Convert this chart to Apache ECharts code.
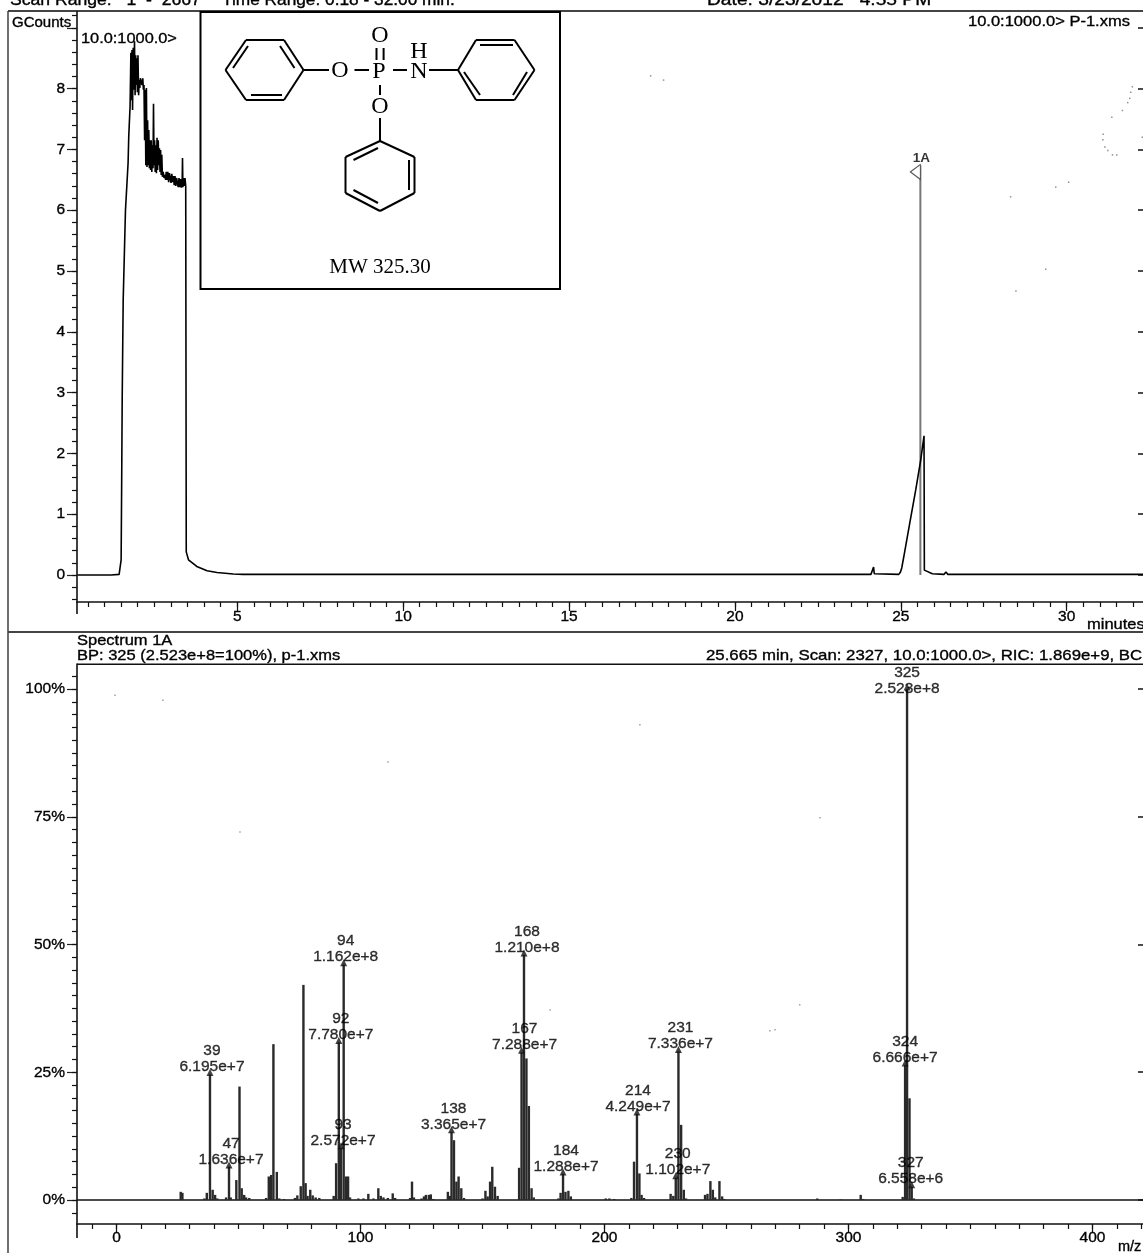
<!DOCTYPE html>
<html><head><meta charset="utf-8">
<style>html,body{margin:0;padding:0;background:#fff}#c{width:1143px;height:1253px}</style>
<script src="https://cdn.jsdelivr.net/npm/echarts@6/dist/echarts.min.js"></script>
</head><body><div id="c"></div>
<script>
// ---- chromatogram trace (minutes, GCounts)
var chromTime = [0.18,1.2,1.44,1.487,1.50,1.517,1.532,1.562,1.631,1.71,1.73,1.77,1.794,1.81,1.827,1.845,1.864,1.882,1.903,1.921,1.939,1.954,1.972,1.99,2.008,2.027,2.045,2.063,2.081,2.105,2.129,2.153,2.171,2.189,2.208,2.226,2.244,2.262,2.28,2.298,2.316,2.334,2.352,2.37,2.389,2.407,2.425,2.443,2.461,2.476,2.491,2.509,2.527,2.545,2.563,2.582,2.6,2.618,2.636,2.654,2.672,2.69,2.708,2.726,2.744,2.768,2.793,2.817,2.841,2.859,2.883,2.907,2.932,2.956,2.98,3.004,3.028,3.052,3.076,3.1,3.124,3.148,3.172,3.196,3.22,3.245,3.269,3.293,3.317,3.341,3.35,3.362,3.383,3.401,3.425,3.447,3.462,3.463,3.53,3.78,4.09,4.39,4.88,5.18,8,15,24.1,24.16,24.18,24.2,24.24,24.94,24.99,25.03,25.09,25.27,25.45,25.6,25.7,25.71,25.74,25.95,26.3,26.36,26.42,28,32.3];
var chromValue = [0.0,0.0,0.01,0.04,0.25,1.56,2.88,4.52,6.0,6.78,7.22,7.71,8.59,7.81,8.635,7.65,8.67,7.98,8.78,7.89,8.55,8.06,8.5,7.94,8.55,7.89,8.14,8.01,8.17,8.11,8.06,8.17,7.98,8.06,7.15,7.98,6.74,8.01,6.71,7.48,6.74,7.32,6.69,7.15,6.66,7.15,6.63,7.07,6.69,7.75,6.74,7.15,6.63,7.07,6.61,7.19,6.66,7.15,6.74,7.02,6.63,6.99,6.58,6.91,6.55,6.63,6.53,6.58,6.5,6.63,6.5,6.63,6.46,6.61,6.53,6.45,6.6,6.46,6.56,6.41,6.56,6.4,6.53,6.45,6.38,6.53,6.38,6.51,6.37,6.5,6.86,6.38,6.53,6.4,6.53,6.4,6.37,0.38,0.25,0.14,0.07,0.04,0.016,0.01,0.01,0.01,0.01,0.02,0.13,0.02,0.01,0.01,0.05,0.12,0.3,0.855,1.4,1.89,2.29,0.08,0.05,0.02,0.01,0.05,0.01,0.01,0.01];
var markerTime = [25.59,25.59];
var markerValue = [0.0,6.74];
var markerLabelPoint = [25.59,6.63];
var speckTime = [31.98,31.93,31.9,31.84,31.68,31.36,31.1,31.09,31.15,31.24,31.38,31.51,32.28,17.46,17.85,28.31,29.67,30.06,29.37,28.47];
var speckValue = [8.03,7.94,7.84,7.77,7.64,7.53,7.25,7.16,7.04,6.98,6.91,6.91,7.2,8.21,8.14,6.22,6.38,6.46,5.03,4.67];
// ---- mass spectrum sticks (m/z position as read, % of base peak)
var peakMz = [26.3,27,36,37,38.3,39.4,40.4,41.3,44.9,46.1,46.8,49.1,50.4,51.3,52.3,53.1,54.4,61.3,62.4,63.4,64.3,65.7,66.7,68.6,73.1,74.1,75.5,76.6,77.5,78.3,79.4,80.4,81.6,83.1,89,90,91.1,92,93.1,94.1,94.9,95.7,99.1,101.2,103.2,105.3,107.3,108.3,109.4,111.2,113.2,114.2,120.3,121.1,121.9,125,126,126.8,128,128.8,129.8,135.8,136.7,137.3,138.3,139.3,140.2,141.3,142.4,150,151.2,152.1,153.1,154,155.1,156.2,165,166,167,168,169,170.1,171,181.1,182,183,184,185.2,186.2,200.5,202,204,211,212.1,213.3,214.3,215.2,216.2,227.1,228.2,229.2,230.3,231.4,232.5,233.4,241.2,242.2,243.4,244.4,245.4,247.1,248.2,249.1,287.2,296.8,305,306,322.2,323.2,324,325,325.9,326.8];
var peakPct = [1.6,1.4,0.3,1.4,24.55,2,1,0.3,0.5,6.48,0.5,3.9,22.2,2.3,1,0.5,0.4,0.4,4.6,4.9,30.5,5.5,0.3,0.2,0.4,0.9,2.7,42.1,3.3,0.8,2,0.9,0.5,0.4,0.8,7.2,30.84,10.2,46.06,4.6,4.6,0.5,0.3,0.3,1.2,0.3,2.3,0.8,0.5,0.4,1.3,0.4,0.4,3.6,0.5,0.3,0.7,1,1,1.1,0.2,1.6,0.8,13.34,11.7,3.6,4.6,2.3,0.4,0.3,1.8,0.7,3.6,6.5,2.6,0.8,6.3,28.89,47.96,27.7,18.4,2.3,0.5,0.3,1.4,5.1,1.6,1.8,0.7,0.3,0.3,0.2,0.4,7.5,16.84,5.2,1,0.4,1.2,0.8,4.37,29.08,14.7,2,0.3,1,1.2,3.7,2,0.5,3.7,0.7,0.2,0.3,0.1,1,0.2,0.6,26.42,100,19.9,2.6,0.3];
var specMz = [111.3,50.6,288.3,214.5,19,-0.6,267.8,269.9,280,177.7];
var specPct = [85.7,72,74.8,93,97.8,98.8,33.1,33.3,38.2,37.2];
// ---- annotated peaks
var noteMz = [38.3,46.1,91.1,92,93.1,137.3,166,167,183,213.3,229.2,230.3,323.2,324,325.9];
var notePct = [24.55,6.48,30.84,10.2,46.06,13.34,28.89,47.96,5.1,16.84,4.37,29.08,26.42,100,2.6];
var noteName = ['39','47','92','93','94','138','167','168','184','214','230','231','324','325','327'];
var noteIntensity = ['6.195e+7','1.636e+7','7.780e+7','2.572e+7','1.162e+8','3.365e+7','7.288e+7','1.210e+8','1.288e+7','4.249e+7','1.102e+7','7.336e+7','6.666e+7','2.523e+8','6.558e+6'];
var noteShiftX = [2,2,2,2,2,2,3,3,3,1,2,2,0,0,-1];
var noteShiftY = [9,9,9,9,9,9,9,9,9.5,9,9,9,9,16,9];
// ---- axis ticks
var timeLabels = [5,10,15,20,25,30];
var countLabels = [0,1,2,3,4,5,6,7,8];
var countMajor = [0,1,2,3,4,5,6,7,8,9];
var pctLabels = [0,25,50,75,100];
var mzLabels = [0,100,200,300,400];
var timeRange = [0.17,32.3], countRange = [-0.444,9.26];
var mzRange = [-16.2,420.7], pctRange = [-4.7,104.9];

function steps(a,b,s){var r=[];for(var i=Math.ceil(a/s-1e-9);i*s<=b+1e-9;i++){r.push(+(i*s).toFixed(3));}return r;}
function zip(a,b){return a.map(function(v,i){return [v,b[i]];});}

var FONT='"Liberation Sans",Arial,sans-serif', INK='#000';
var minorTime=steps(0.5,32,0.5), minorCount=steps(-0.4,9.2,0.2), minorMz=steps(-10,420,10), minorPct=steps(-2.5,102.5,2.5);
var LBL={color:INK,fontSize:15.5,fontFamily:FONT,textBorderColor:'#000',textBorderWidth:0.35};

function xAx(grid,range,major,labels,minor,margin){
  return [{type:'value',gridIndex:grid,min:range[0],max:range[1],position:'bottom',splitLine:{show:false},
    axisLine:{onZero:false,lineStyle:{color:'#111',width:1.6}},
    axisTick:{length:9,customValues:major,lineStyle:{color:'#111',width:1.2}},
    axisLabel:Object.assign({customValues:labels,margin:margin},LBL)},
   {type:'value',gridIndex:grid,min:range[0],max:range[1],position:'bottom',splitLine:{show:false},
    axisLine:{show:false,onZero:false},
    axisTick:{length:5,customValues:minor,lineStyle:{color:'#111',width:1.2}},axisLabel:{show:false}}];
}
function yAx(grid,range,major,labels,minor,fmt){
  return [{type:'value',gridIndex:grid,min:range[0],max:range[1],position:'left',splitLine:{show:false},
    axisLine:{onZero:false,lineStyle:{color:'#111',width:1.6}},
    axisTick:{length:10,customValues:major,lineStyle:{color:'#222',width:1.2}},
    axisLabel:Object.assign({customValues:labels,margin:12,formatter:fmt||'{value}'},LBL)},
   {type:'value',gridIndex:grid,min:range[0],max:range[1],position:'left',splitLine:{show:false},
    axisLine:{show:false,onZero:false},
    axisTick:{length:5,customValues:minor,lineStyle:{color:'#111',width:1.2}},axisLabel:{show:false}},
   {type:'value',gridIndex:grid,min:range[0],max:range[1],position:'right',splitLine:{show:false},
    axisLine:{show:false,onZero:false},
    axisTick:{inside:true,length:5,customValues:major,lineStyle:{color:'#111',width:1.5}},axisLabel:{show:false}}];
}

var graphicEls=[];
function ln(x1,y1,x2,y2,w,col,z){graphicEls.push({type:'line',silent:true,z:z||40,shape:{x1:x1,y1:y1,x2:x2,y2:y2},style:{stroke:col||'#111',lineWidth:w||1.5}});}
function tx(s,x,y,font,align,z,sx,plain){
  var st={text:s,font:font||('15px '+FONT),fill:INK,textAlign:align||'left',textVerticalAlign:'middle'};
  if(!plain){st.stroke='#000';st.lineWidth=0.35;}
  graphicEls.push({type:'text',silent:true,z:z||60,x:x,y:y,scaleX:sx||1,style:st});
}

// frame
ln(8,11,1143,11,2.2,'#444');
ln(8,11,8,1253,1.4,'#333');
ln(8,632,1143,632,2.2,'#444');
ln(77,602,77,614,1.6);
ln(77,1224,77,1238,1.6);
ln(77,664.3,1143,664.3,1.6);
ln(77,11,77,12,1.6);
// texts
var hdr='16px '+FONT;
tx('Scan Range:   1  -  2667',10,1,hdr,'left',60,1.1);
tx('Time Range: 0.18 - 32.00 min.',222,1,hdr,'left',60,1.08);
tx('Date: 3/23/2012   4:55 PM',707,1,hdr,'left',60,1.2);
tx('GCounts',12,23,'15px '+FONT);
tx('10.0:1000.0>',81,39,'15px '+FONT,'left',60,1.09);
tx('10.0:1000.0> P-1.xms',968,22,'15px '+FONT,'left',60,1.1);
tx('minutes',1087,625,'15px '+FONT,'left',60,1.1);
tx('Spectrum 1A',77,641,'15px '+FONT,'left',60,1.1);
tx('BP: 325 (2.523e+8=100%), p-1.xms',77,656,'15px '+FONT,'left',60,1.1);
tx('25.665 min, Scan: 2327, 10.0:1000.0>, RIC: 1.869e+9, BC',706,656,'15px '+FONT,'left',60,1.12);
tx('m/z',1118,1247,'14.5px '+FONT);

// inset: structure drawing
graphicEls.push({type:'rect',silent:true,z:80,shape:{x:200.5,y:12,width:359.5,height:277},style:{fill:'#fff',stroke:'#000',lineWidth:2}});
var bonds=[
 [225.5,70,246,40],[246,40,284,40],[284,40,303.5,70],[303.5,70,284,100],[284,100,246,100],[246,100,225.5,70],
 [233,68,248,46],[280,46,294.5,68],[251,95,282,95],
 [458,70,476,40],[476,40,514.5,40],[514.5,40,534.5,70],[534.5,70,514.5,100],[514.5,100,476,100],[476,100,458,70],
 [480,45,513,45],[464,72,480,95],[513,95,527,72],
 [380,141,414.5,157],[414.5,157,414.5,193],[414.5,193,380,211],[380,211,345.5,193],[345.5,193,345.5,157],[345.5,157,380,141],
 [353.5,160,378,148],[409,160,409,190],[353.5,190,378,203],
 [303.5,70,329,70],[354.5,70,369,70],[393,70,407,70],[429,70,458,70],
 [376.5,48,376.5,60],[383.6,48,383.6,60],[380,85,380,95],[380,118,380,141]];
bonds.forEach(function(b){ln(b[0],b[1],b[2],b[3],2,'#000',85);});
var atom='24px "Liberation Serif",serif';
[['O',380,36],['O',340,71],['P',379,72],['N',419,72],['H',419,52],['O',380,107]].forEach(function(a){tx(a[0],a[1],a[2],atom,'center',90,1,true);});
tx('MW 325.30',380,267,'21px "Liberation Serif",serif','center',90,1,true);

var noteData=noteMz.map(function(m,i){return {value:[m,notePct[i]],name:noteName[i],intensity:noteIntensity[i],
  label:{offset:[noteShiftX[i],noteShiftY[i]]}};});

var option={
 animation:false,backgroundColor:'#fff',
 grid:[{left:77,right:0,top:12,height:590},{left:77,right:0,top:664,height:560}],
 xAxis:xAx(0,timeRange,[5,10,15,20,25,30],timeLabels,minorTime,7).concat(xAx(1,mzRange,mzLabels,mzLabels,minorMz,6)),
 yAxis:yAx(0,countRange,countMajor,countLabels,minorCount).concat(yAx(1,pctRange,[0,25,50,75,100],pctLabels,minorPct,'{value}%')),
 series:[
  {type:'line',name:'Chromatogram',xAxisIndex:0,yAxisIndex:0,data:zip(chromTime,chromValue),showSymbol:false,symbol:'none',smooth:false,sampling:false,clip:true,lineStyle:{color:'#000',width:1.6},z:5},
  {type:'line',name:'1A marker',xAxisIndex:0,yAxisIndex:0,data:zip(markerTime,markerValue),symbol:'none',lineStyle:{color:'#777',width:2},z:4},
  {type:'scatter',name:'1A',xAxisIndex:0,yAxisIndex:0,data:[markerLabelPoint],symbol:'triangle',symbolRotate:90,symbolSize:[15,10],symbolOffset:[-5,0],
   itemStyle:{color:'#fff',borderColor:'#333',borderWidth:1},
   label:{show:true,position:'top',distance:2,offset:[6,3],formatter:'1A',color:INK,fontSize:13.5,fontWeight:'bold',fontFamily:FONT},z:6},
  {type:'scatter',name:'specks',xAxisIndex:0,yAxisIndex:0,data:zip(speckTime,speckValue),symbol:'rect',symbolSize:1.5,itemStyle:{color:'#777'},z:3},
  {type:'scatter',name:'spectrum specks',xAxisIndex:2,yAxisIndex:3,data:zip(specMz,specPct),symbol:'rect',symbolSize:1.5,itemStyle:{color:'#888'},z:3},
  {type:'bar',name:'Spectrum',xAxisIndex:2,yAxisIndex:3,data:zip(peakMz,peakPct),barWidth:2.4,itemStyle:{color:'#2a2a2a'},z:5,
   markLine:{silent:true,symbol:'none',label:{show:false},animation:false,lineStyle:{color:'#111',width:1.5,type:'solid'},data:[{yAxis:0}]}},
  {type:'scatter',name:'Annotated',xAxisIndex:2,yAxisIndex:3,data:noteData,symbol:'triangle',symbolSize:[7,7],symbolOffset:[0,-2],itemStyle:{color:'#111'},z:8,
   label:{show:true,position:'top',distance:3,align:'center',color:INK,fontSize:15.5,lineHeight:16,fontFamily:FONT,textBorderColor:'#000',textBorderWidth:0.35,
    formatter:function(p){return p.data.name+'\n'+p.data.intensity;}}}
 ],
 graphic:{elements:graphicEls}
};
echarts.init(document.getElementById('c'),null,{renderer:'canvas'}).setOption(option);
</script></body></html>
